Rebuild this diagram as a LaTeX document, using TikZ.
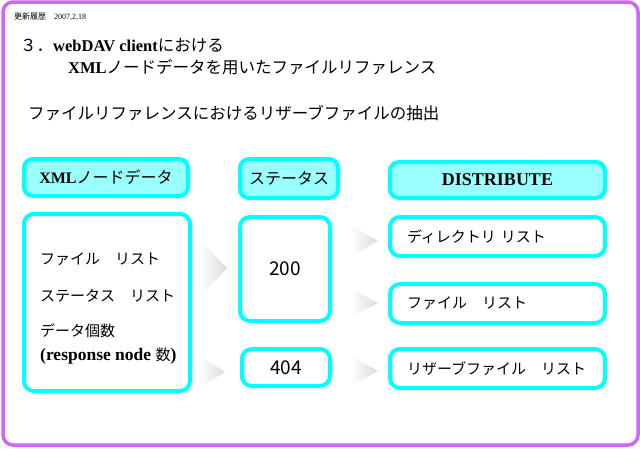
\documentclass[tikz,border=0pt]{standalone}
\usepackage{fontspec}
\setmainfont{Noto Sans CJK JP}
\newfontfamily\serfont{Liberation Serif}
\newcommand\latb[1]{{\serfont\bfseries #1}}
\definecolor{framecol}{HTML}{CC66FF}
\definecolor{cyanline}{HTML}{00FFFF}
\definecolor{cyanfill}{HTML}{99FFFF}
\begin{document}
\begin{tikzpicture}[x=1pt,y=-1pt,
  hdr/.style={draw=cyanline, fill=cyanfill, line width=4pt, rounded corners=9pt, inner sep=0pt, font=\fontsize{16}{19}\selectfont},
  box/.style={draw=cyanline, fill=white, line width=4pt, rounded corners=10pt, inner sep=0pt, font=\fontsize{15}{18}\selectfont},
  rbox/.style={box, minimum width=215pt, minimum height=39pt, text width=181pt, align=left, inner xsep=17pt},
  lbl/.style={font=\fontsize{15}{18}\selectfont, inner sep=0pt, anchor=west},
  ttl/.style={font=\fontsize{16.5}{20}\selectfont, inner sep=0pt, anchor=west},
  num/.style={font=\fontsize{19}{22}\selectfont},
  tri/.style={left color=white, right color=black!14}]
\useasboundingbox (0,0) rectangle (640,448);
\draw[framecol, line width=3.5pt, rounded corners=10pt] (3,2) rectangle (638,445);

\node[anchor=west, inner sep=0pt, font=\fontsize{8}{10}\selectfont] (date) at (14,17) {更新履歴　{\serfont 2007,2,18}};
\node[ttl] (title1) at (20,45) {３．\latb{webDAV client}における};
\node[ttl] (title2) at (68,67) {\latb{XML}ノードデータを用いたファイルリファレンス};
\node[ttl] (title3) at (28,113) {ファイルリファレンスにおけるリザーブファイルの抽出};

\node[hdr, minimum width=164pt, minimum height=37pt] (xmlh) at (106,177.5) {\latb{XML}ノードデータ};
\node[hdr, minimum width=98pt, minimum height=39pt] (stath) at (289,178.5) {ステータス};
\node[hdr, minimum width=215pt, minimum height=36pt, font=\fontsize{18}{20}\selectfont] (disth) at (497.5,180) {\latb{DISTRIBUTE}};

\node[box, minimum width=166pt, minimum height=177pt] (xmlbox) at (107,302.5) {};
\node[lbl] (l1) at (40,259) {ファイル　リスト};
\node[lbl] (l2) at (40,296) {ステータス　リスト};
\node[lbl] (l3) at (40,331) {データ個数};
\node[lbl] (l4) at (40,356) {{\fontsize{17.5}{20}\selectfont\latb{(response node }}数{\fontsize{17.5}{20}\selectfont\latb{)}}};

\node[box, num, minimum width=90pt, minimum height=104pt] (s200) at (285,269) {200};
\node[box, num, minimum width=88pt, minimum height=37pt] (s404) at (286,367.5) {404};

\node[rbox] (dir) at (497.5,236.5) {ディレクトリ リスト};
\node[rbox] (file) at (497.5,303.5) {ファイル　リスト};
\node[rbox] (res) at (497.5,368.5) {リザーブファイル　リスト};

\shade[tri] (200,240) -- (227,268) -- (200,297) -- cycle;
\shade[tri] (198,355) -- (225,372) -- (198,388) -- cycle;
\shade[tri] (350,225) -- (378,241) -- (350,257) -- cycle;
\shade[tri] (350,288) -- (378,303) -- (350,318) -- cycle;
\shade[tri] (350,355) -- (378,371) -- (350,387) -- cycle;
\end{tikzpicture}
\end{document}
